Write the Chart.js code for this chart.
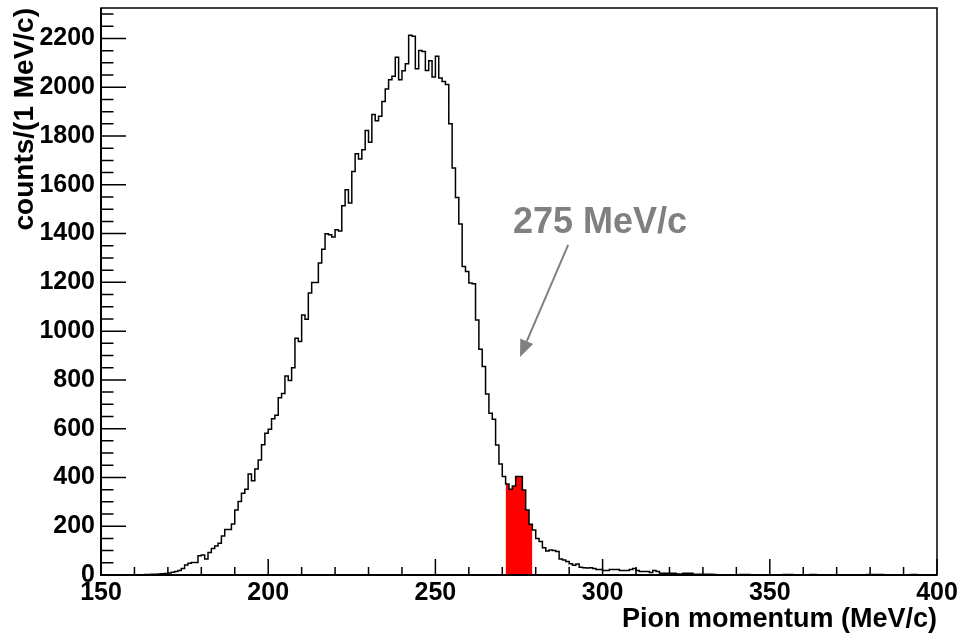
<!DOCTYPE html>
<html>
<head>
<meta charset="utf-8">
<script src="https://cdn.jsdelivr.net/npm/chart.js@4.4.1/dist/chart.umd.min.js"></script>
<style>
  html, body { margin: 0; padding: 0; background: #fff; }
  canvas { display: block; }
</style>
</head>
<body>
<canvas id="pionChart" width="961" height="634"></canvas>
<script>
// Спектр импульса пионов, бины по 1 MeV/c начиная со 150
const binStart = 150;
const binEnd = 400;
const counts = [
    0, 0, 0, 0, 0, 0, 0, 0, 0, 0,
    0, 1, 1, 2, 2, 3, 3, 4, 5, 6,
    8, 11, 14, 18, 27, 41, 48, 51, 51, 79,
    82, 66, 92, 109, 119, 130, 160, 187, 187, 209,
    267, 301, 335, 352, 414, 386, 435, 472, 534, 581,
    598, 641, 655, 727, 744, 816, 798, 850, 971, 957,
    1066, 1049, 1156, 1199, 1199, 1279, 1336, 1399, 1395, 1386,
    1416, 1411, 1514, 1580, 1525, 1655, 1727, 1706, 1744, 1823,
    1774, 1888, 1863, 1881, 1942, 1993, 2031, 2045, 2123, 2031,
    2068, 2096, 2213, 2209, 2076, 2151, 2147, 2069, 2109, 2042,
    2127, 2038, 2024, 2011, 1850, 1669, 1548, 1439, 1265, 1245,
    1197, 1194, 1046, 926, 855, 742, 663, 639, 533, 455,
    404, 373, 352, 365, 404, 404, 349, 267, 208, 185,
    150, 137, 112, 98, 103, 100, 96, 66, 62, 55,
    46, 40, 45, 32, 30, 29, 30, 27, 23, 23,
    18, 18, 23, 23, 23, 18, 18, 18, 23, 27,
    18, 14, 14, 14, 10, 18, 14, 7, 7, 7,
    7, 7, 4, 4, 7, 7, 7, 3, 3, 3,
    3, 3, 3, 2, 1, 1, 0, 1, 0, 0,
    1, 2, 2, 2, 1, 0, 1, 0, 0, 0,
    0, 1, 0, 0, 2, 2, 2, 0, 0, 1,
    0, 0, 2, 2, 0, 0, 1, 0, 0, 0,
    0, 1, 0, 0, 0, 0, 0, 0, 1, 2,
    2, 2, 2, 2, 1, 0, 0, 0, 0, 0,
    1, 0, 2, 2, 1, 0, 0, 0, 0, 0
];

// Выделенные красным бины: [271, 279)
const selectedBins = [271, 279];

// Подписи осей
const xTickValues = [150, 200, 250, 300, 350, 400];
const yTickValues = [0, 200, 400, 600, 800, 1000, 1200, 1400, 1600, 1800, 2000, 2200];
const yMax = 2325;

// Стрелка с подписью (в координатах данных)
const arrowText = '275 MeV/c';
const arrowTail = [289.7, 1354];
const arrowHead = [275.3, 894];
const arrowTextAt = [273.2, 1403];

const labelFont = { family: 'Liberation Sans', weight: 'bold', size: 25 };

//Точки ступенчатой линии гистограммы по левым краям бинов
function histPoints(from, to) {
    let pts = [];
    for (let b = from; b < to; b++)
        pts.push({ x: b, y: counts[b - binStart] });
    pts.push({ x: to, y: counts[to - 1 - binStart] });
    return pts;
}

//Рамка и внутренние засечки в стиле ROOT
const rootFrame = {
    id: 'rootFrame',
    afterDatasetsDraw(chart) {
        const { ctx, chartArea: a, scales: { x, y } } = chart;
        ctx.save();
        ctx.strokeStyle = '#000';
        ctx.lineWidth = 1.5;
        ctx.beginPath();
        for (let v = binStart; v <= binEnd; v += 10) {
            let px = x.getPixelForValue(v);
            let len = v % 50 === 0 ? 16 : 8;
            ctx.moveTo(px, a.bottom);
            ctx.lineTo(px, a.bottom - len);
        }
        for (let c = 0; c <= yMax; c += 50) {
            let py = y.getPixelForValue(c);
            let len = c % 200 === 0 ? 25 : 12.5;
            ctx.moveTo(a.left, py);
            ctx.lineTo(a.left + len, py);
        }
        ctx.stroke();

        ctx.lineWidth = 1.5;
        ctx.strokeRect(a.left, a.top, a.width, a.height);
        ctx.lineWidth = 2;
        ctx.beginPath();
        ctx.moveTo(a.left, a.top);
        ctx.lineTo(a.left, a.bottom);
        ctx.lineTo(a.right, a.bottom);
        ctx.stroke();
        ctx.restore();
    }
};

//Серая стрелка и подпись
const arrowNote = {
    id: 'arrowNote',
    afterDraw(chart) {
        const { ctx, scales: { x, y } } = chart;
        let x0 = x.getPixelForValue(arrowTail[0]), y0 = y.getPixelForValue(arrowTail[1]);
        let x1 = x.getPixelForValue(arrowHead[0]), y1 = y.getPixelForValue(arrowHead[1]);
        let ang = Math.atan2(y1 - y0, x1 - x0);
        let headLen = 17, headHalf = 7;
        let bx = x1 - headLen * Math.cos(ang), by = y1 - headLen * Math.sin(ang);

        ctx.save();
        ctx.strokeStyle = '#808080';
        ctx.fillStyle = '#808080';
        ctx.lineWidth = 2;
        ctx.beginPath();
        ctx.moveTo(x0, y0);
        ctx.lineTo(bx, by);
        ctx.stroke();

        ctx.beginPath();
        ctx.moveTo(x1, y1);
        ctx.lineTo(bx + headHalf * Math.sin(ang), by - headHalf * Math.cos(ang));
        ctx.lineTo(bx - headHalf * Math.sin(ang), by + headHalf * Math.cos(ang));
        ctx.closePath();
        ctx.fill();

        ctx.font = 'bold 36px "Liberation Sans"';
        ctx.textBaseline = 'alphabetic';
        ctx.textAlign = 'left';
        ctx.fillText(arrowText, x.getPixelForValue(arrowTextAt[0]), y.getPixelForValue(arrowTextAt[1]));
        ctx.restore();
    }
};

document.addEventListener('DOMContentLoaded', () => {
    new Chart(
        document.getElementById('pionChart'),
        {
            type: 'line',
            data: {
                datasets: [
                    {
                        data: histPoints(binStart, binEnd),
                        stepped: true,
                        borderColor: '#000',
                        borderWidth: 1.5,
                        pointRadius: 0,
                        fill: false,
                        order: 1
                    },
                    {
                        data: histPoints(selectedBins[0], selectedBins[1]),
                        stepped: true,
                        borderWidth: 0,
                        borderColor: 'rgba(0,0,0,0)',
                        backgroundColor: '#ff0000',
                        pointRadius: 0,
                        fill: 'origin',
                        order: 2
                    }
                ]
            },
            options: {
                responsive: false,
                animation: false,
                devicePixelRatio: 1,
                layout: {
                    padding: { left: 0, top: 8, right: 24, bottom: 0 }
                },
                plugins: {
                    legend: { display: false },
                    tooltip: { enabled: false }
                },
                scales: {
                    x: {
                        type: 'linear',
                        min: binStart,
                        max: binEnd,
                        grid: { display: false, drawTicks: false },
                        border: { display: false },
                        afterBuildTicks: s => { s.ticks = xTickValues.map(v => ({ value: v })); },
                        afterFit: s => {
                            s.height = 59;
                            s.paddingLeft = 0;
                            s.paddingRight = 0;
                        },
                        ticks: {
                            autoSkip: false,
                            maxRotation: 0,
                            padding: 3,
                            color: '#000',
                            font: labelFont,
                            callback: v => String(v)
                        },
                        title: {
                            display: true,
                            text: 'Pion momentum (MeV/c)',
                            align: 'end',
                            color: '#000',
                            font: { family: 'Liberation Sans', weight: 'bold', size: 27 },
                            padding: { top: 0, bottom: -2 }
                        }
                    },
                    y: {
                        min: 0,
                        max: yMax,
                        grid: { display: false, drawTicks: false },
                        border: { display: false },
                        afterBuildTicks: s => { s.ticks = yTickValues.map(v => ({ value: v })); },
                        afterFit: s => {
                            s.width = 101;
                            s.paddingTop = 0;
                            s.paddingBottom = 0;
                        },
                        ticks: {
                            padding: 6,
                            color: '#000',
                            font: labelFont,
                            callback: v => String(v)
                        },
                        title: {
                            display: true,
                            text: 'counts/(1 MeV/c)',
                            align: 'end',
                            color: '#000',
                            font: { family: 'Liberation Sans', weight: 'bold', size: 28 },
                            padding: { top: 8, bottom: 0 }
                        }
                    }
                }
            },
            plugins: [rootFrame, arrowNote]
        }
    );
});
</script>
</body>
</html>
